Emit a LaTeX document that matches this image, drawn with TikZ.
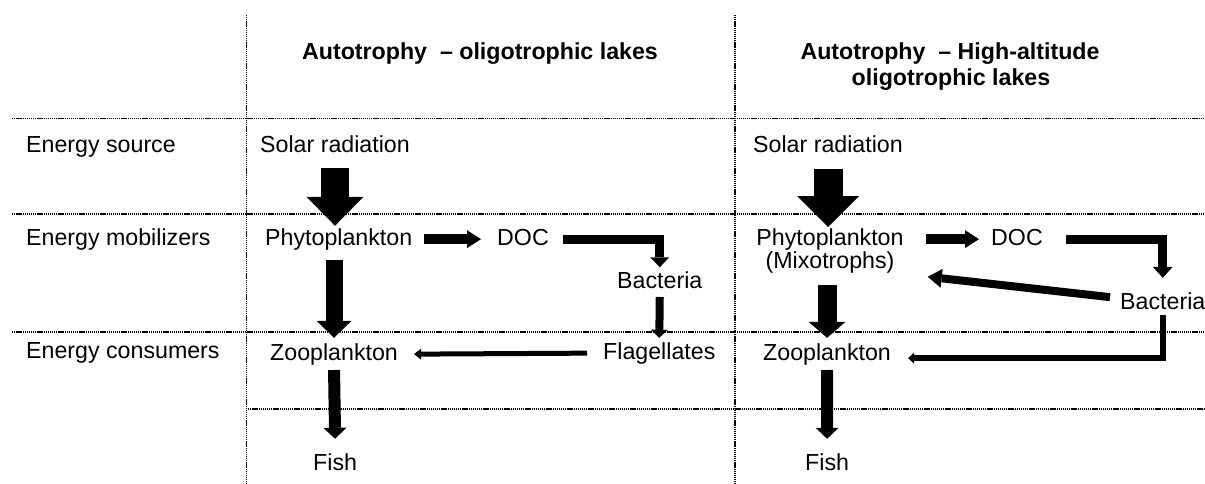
\documentclass[tikz,border=0pt]{standalone}
\usepackage{fontspec}
\setmainfont{Liberation Sans}
\usetikzlibrary{arrows.meta}

\begin{document}
\begin{tikzpicture}[x=1pt,y=-1pt,
  txt/.style={inner sep=0pt,anchor=base west,font=\fontsize{23.2}{22}\selectfont,
              text height=16.5pt,text depth=4.8pt},
  ttl/.style={inner sep=0pt,anchor=base,font=\fontsize{23.2}{28}\selectfont\bfseries},
  grid/.style={line width=1.6pt,dash pattern=on 1.3pt off 0.8pt,black},
  flow/.style={draw=black,line cap=butt,line join=miter},
  fatA/.style={flow,line width=28pt,-{Triangle[width=57pt,length=29pt,line width=0pt]}},
  fatB/.style={flow,line width=17pt,-{Triangle[width=35pt,length=17pt,line width=0pt]}},
  fatC/.style={flow,line width=12pt,-{Triangle[width=23pt,length=11pt,line width=0pt]}},
  midA/.style={flow,line width=10pt,-{Triangle[width=18pt,length=14pt,line width=0pt]}},
  midB/.style={flow,line width=9pt,-{Triangle[width=19pt,length=10pt,line width=0pt]}},
  thinA/.style={flow,line width=5pt,-{Triangle[width=11pt,length=7pt,line width=0pt]}},
]
\useasboundingbox (0,0) rectangle (1205,484);
\fill[white] (0,0) rectangle (1205,484);

% table rules
\draw[grid] (246.5,15) -- (246.5,484);
\draw[grid] (735,15) -- (735,484);
\draw[grid] (12,118.5) -- (1205,118.5);
\draw[grid] (12,214) -- (1205,214);
\draw[grid] (12,332) -- (1205,332);
\draw[grid] (248,409) -- (1205,409);

% column headings
\node[ttl] (titleL) at (480,60) {Autotrophy\ \ – oligotrophic lakes};
\node[ttl] (titleR1) at (950,60) {Autotrophy\ \ – High-altitude};
\node[ttl] (titleR2) at (951,86) {oligotrophic lakes};

% row headings
\node[txt] (srcLab) at (26,153) {Energy source};
\node[txt] (mobLab) at (26,245) {Energy mobilizers};
\node[txt] (conLab) at (26,358) {Energy consumers};

% oligotrophic lakes
\node[txt] (solarL) at (260,153) {Solar radiation};
\node[txt] (phytoL) at (265,245) {Phytoplankton};
\node[txt] (docL)   at (497,245) {DOC};
\node[txt] (bactL)  at (617,288) {Bacteria};
\node[txt] (flagL)  at (603,359) {Flagellates};
\node[txt] (zooL)   at (270,360) {Zooplankton};
\node[txt] (fishL)  at (313,470) {Fish};

% high-altitude oligotrophic lakes
\node[txt] (solarR) at (753,153) {Solar radiation};
\node[inner sep=0pt,anchor=north,align=center,font=\fontsize{23.2}{22.5}\selectfont]
     (phytoR) at (830,228.5) {Phytoplankton\\(Mixotrophs)};
\node[txt] (docR)   at (991,245) {DOC};
\node[txt] (bactR)  at (1120,309) {Bacteria};
\node[txt] (zooR)   at (763,360) {Zooplankton};
\node[txt] (fishR)  at (805,470) {Fish};

% energy flow, oligotrophic lakes
\draw[fatA] ([yshift=-10pt]solarL.south) -- ([yshift=2.5pt]solarL.south |- phytoL.north);
\draw[fatB] ([yshift=-10pt]zooL.north |- phytoL.south) -- ([yshift=5.5pt]zooL.north);
\draw[midA] ([xshift=12pt]phytoL.east) -- ([xshift=-16pt]docL.west);
\draw[midB] ([xshift=14pt]docL.east) -| ([yshift=4pt]bactL.north);
\draw[flow,line width=8pt,-{Triangle[width=17pt,length=8pt,line width=0pt]}]
     ([yshift=-4pt]bactL.south) -- ([yshift=4.5pt]flagL.north);
\draw[thinA] ([xshift=-16pt]flagL.west) -- ([xshift=16pt]zooL.east);
\draw[fatC] ([yshift=-5pt]zooL.south) -- ([yshift=14.5pt]fishL.north);

% energy flow, high-altitude lakes
\draw[flow,line width=29pt,-{Triangle[width=62pt,length=31pt,line width=0pt]}]
     ([yshift=-11pt]solarR.south) -- ([yshift=1.5pt]solarR.south |- phytoR.north);
\draw[midA] ([xshift=22pt]docR.west -| phytoR.east) -- ([xshift=-12pt]docR.west);
\draw[flow,line width=9pt,-{Triangle[width=20pt,length=11pt,line width=0pt]}]
     ([xshift=23pt]docR.east) -| ([yshift=14.5pt]bactR.north);
\draw[flow,line width=8pt,-{Triangle[width=19pt,length=14pt,line width=0pt]}]
     ([xshift=-10pt,yshift=6pt]bactR.west) -- ([xshift=24pt,yshift=-26pt]phytoR.east);
\draw[flow,line width=19pt,-{Triangle[width=37pt,length=16pt,line width=0pt]}]
     ([yshift=-12pt]zooR.north |- phytoR.south) -- ([yshift=5.5pt]zooR.north);
\draw[flow,line width=6pt,-{Triangle[width=11pt,length=6pt,line width=0pt]}]
     ([yshift=-1pt]bactR.south) |- ([xshift=17pt,yshift=-4pt]zooR.east);
\draw[fatC] ([yshift=-5pt]zooR.south) -- ([yshift=14.5pt]fishR.north);
\end{tikzpicture}
\end{document}
